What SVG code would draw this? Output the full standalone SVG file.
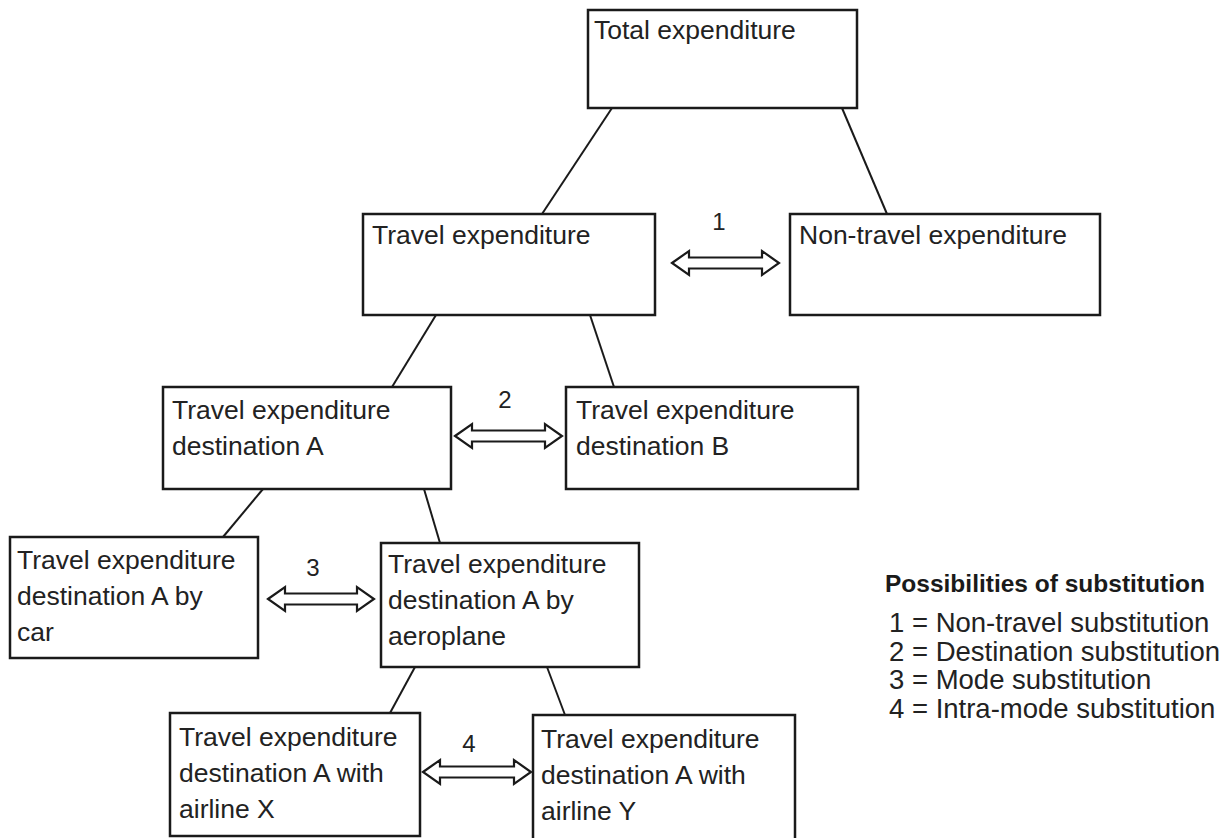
<svg xmlns="http://www.w3.org/2000/svg" width="1225" height="838" viewBox="0 0 1225 838">
<style>
.box{fill:#fff;stroke:#1a1a1a;stroke-width:2.5}
.t{font-family:"Liberation Sans",Arial,sans-serif;font-size:26.5px;fill:#222}
.lbl{font-family:"Liberation Sans",Arial,sans-serif;font-size:24px;fill:#222;text-anchor:middle}
.ln{stroke:#1a1a1a;stroke-width:2;fill:none}
.arr{fill:#fff;stroke:#1a1a1a;stroke-width:2.2;stroke-linejoin:miter}
.lg{font-family:"Liberation Sans",Arial,sans-serif;font-size:27.5px;fill:#222}
.lgt{font-family:"Liberation Sans",Arial,sans-serif;font-size:24.5px;font-weight:bold;fill:#1a1a1a}
</style>
<rect width="1225" height="838" fill="#fff"/>
<g id="connectors">
<line class="ln" x1="612" y1="108" x2="542" y2="214"/>
<line class="ln" x1="842" y1="108" x2="887" y2="214"/>
<line class="ln" x1="436" y1="315" x2="392" y2="387"/>
<line class="ln" x1="590" y1="315" x2="614" y2="387"/>
<line class="ln" x1="263" y1="489" x2="223" y2="537"/>
<line class="ln" x1="424" y1="489" x2="440" y2="543"/>
<line class="ln" x1="415" y1="667" x2="390" y2="713"/>
<line class="ln" x1="547" y1="667" x2="565" y2="715"/>
<polygon class="arr" points="672,263 689,251 689,257.5 762,257.5 762,251 779,263 762,275 762,268.5 689,268.5 689,275"/>
<polygon class="arr" points="455,436 472,424 472,430.5 545,430.5 545,424 562,436 545,448 545,441.5 472,441.5 472,448"/>
<polygon class="arr" points="268,599 285,587 285,593.5 357,593.5 357,587 374,599 357,611 357,604.5 285,604.5 285,611"/>
<polygon class="arr" points="423,772 440,760 440,766.5 514,766.5 514,760 531,772 514,784 514,777.5 440,777.5 440,784"/>
<text class="lbl" x="719" y="230">1</text>
<text class="lbl" x="505" y="408">2</text>
<text class="lbl" x="313" y="576">3</text>
<text class="lbl" x="469" y="752">4</text>
</g>
<g id="total">
<rect class="box" x="588" y="10" width="269" height="98"/>
<text class="t" x="594" y="39">Total expenditure</text>
</g>
<g id="travel">
<rect class="box" x="363" y="214" width="292" height="101"/>
<text class="t" x="372" y="244">Travel expenditure</text>
</g>
<g id="nontravel">
<rect class="box" x="790" y="214" width="310" height="101"/>
<text class="t" x="799" y="244">Non-travel expenditure</text>
</g>
<g id="destA">
<rect class="box" x="163" y="387" width="288" height="102"/>
<text class="t" x="172" y="419">Travel expenditure</text>
<text class="t" x="172" y="455">destination A</text>
</g>
<g id="destB">
<rect class="box" x="566" y="387" width="292" height="102"/>
<text class="t" x="576" y="419">Travel expenditure</text>
<text class="t" x="576" y="455">destination B</text>
</g>
<g id="car">
<rect class="box" x="10" y="537" width="248" height="121"/>
<text class="t" x="17" y="569">Travel expenditure</text>
<text class="t" x="17" y="605">destination A by</text>
<text class="t" x="17" y="641">car</text>
</g>
<g id="aeroplane">
<rect class="box" x="381" y="543" width="258" height="124"/>
<text class="t" x="388" y="573">Travel expenditure</text>
<text class="t" x="388" y="609">destination A by</text>
<text class="t" x="388" y="645">aeroplane</text>
</g>
<g id="airlineX">
<rect class="box" x="170" y="713" width="250" height="123"/>
<text class="t" x="179" y="746">Travel expenditure</text>
<text class="t" x="179" y="782">destination A with</text>
<text class="t" x="179" y="818">airline X</text>
</g>
<g id="airlineY">
<rect class="box" x="533" y="715" width="262" height="130"/>
<text class="t" x="541" y="748">Travel expenditure</text>
<text class="t" x="541" y="784">destination A with</text>
<text class="t" x="541" y="820">airline Y</text>
</g>
<g id="legend">
<text class="lgt" x="885" y="592">Possibilities of substitution</text>
<text class="lg" x="889" y="632">1 = Non-travel substitution</text>
<text class="lg" x="889" y="661">2 = Destination substitution</text>
<text class="lg" x="889" y="689">3 = Mode substitution</text>
<text class="lg" x="889" y="718">4 = Intra-mode substitution</text>
</g>
</svg>
